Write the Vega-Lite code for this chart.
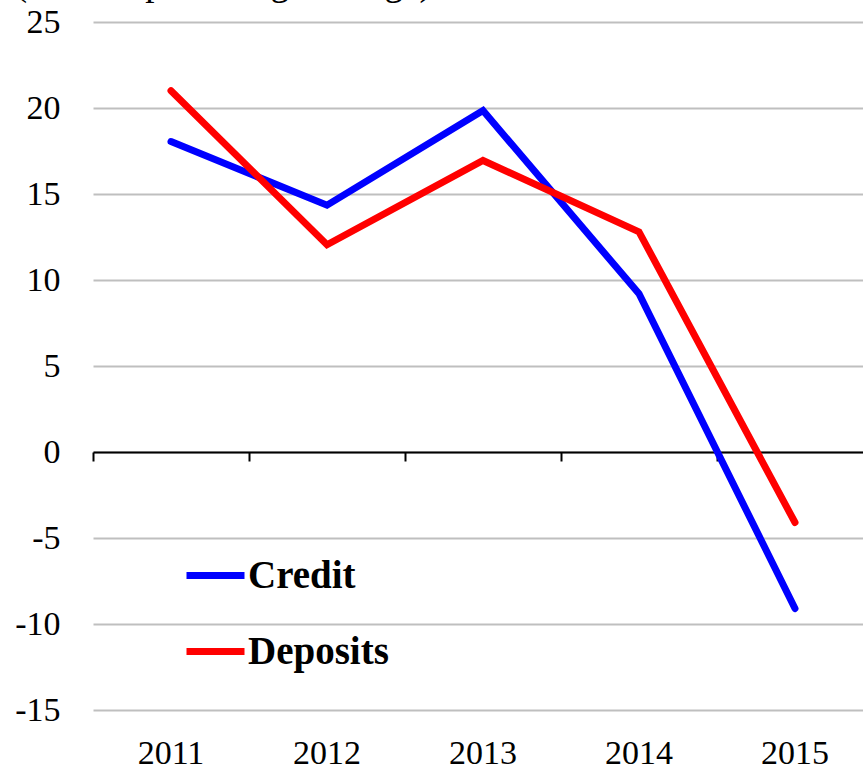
{
  "$schema": "https://vega.github.io/schema/vega-lite/v6.json",
  "autosize": {"type": "none"},
  "width": 770,
  "height": 688,
  "padding": {"left": 93, "top": 22, "right": 0, "bottom": 56},
  "background": "white",
  "title": {
    "text": "(Annual percentage change)",
    "anchor": "start",
    "frame": "bounds",
    "font": "Liberation Serif",
    "fontSize": 37,
    "fontWeight": "normal",
    "color": "black",
    "baseline": "alphabetic",
    "offset": -27
  },
  "config": {
    "view": {"stroke": null},
    "font": "Liberation Serif"
  },
  "data": {
    "values": [
      {"year": "2011", "series": "Credit", "value": 18.05},
      {"year": "2012", "series": "Credit", "value": 14.35},
      {"year": "2013", "series": "Credit", "value": 19.85},
      {"year": "2014", "series": "Credit", "value": 9.2},
      {"year": "2015", "series": "Credit", "value": -9.1},
      {"year": "2011", "series": "Deposits", "value": 21.0},
      {"year": "2012", "series": "Deposits", "value": 12.05},
      {"year": "2013", "series": "Deposits", "value": 16.95},
      {"year": "2014", "series": "Deposits", "value": 12.8},
      {"year": "2015", "series": "Deposits", "value": -4.1}
    ]
  },
  "mark": {"type": "line", "strokeWidth": 7, "strokeCap": "round"},
  "encoding": {
    "x": {
      "field": "year",
      "type": "ordinal",
      "scale": {"type": "band", "range": [0, 780], "paddingInner": 0, "paddingOuter": 0},
      "axis": {
        "title": null,
        "offset": -258,
        "domainColor": "black",
        "domainWidth": 2,
        "ticks": true,
        "tickColor": "black",
        "tickWidth": 2,
        "tickSize": 9,
        "bandPosition": 0,
        "labelPadding": 275,
        "labelFont": "Liberation Serif",
        "labelFontSize": 34,
        "labelColor": "black",
        "labelAngle": 0,
        "grid": false
      }
    },
    "y": {
      "field": "value",
      "type": "quantitative",
      "scale": {"domain": [-15, 25], "nice": false, "zero": false},
      "axis": {
        "title": null,
        "values": [-15, -10, -5, 0, 5, 10, 15, 20, 25],
        "labelExpr": "datum.value < 0 ? '-' + abs(datum.value) : '' + datum.value",
        "domain": false,
        "ticks": false,
        "grid": true,
        "gridColor": "#bfbfbf",
        "gridWidth": 2,
        "labelPadding": 33,
        "labelFont": "Liberation Serif",
        "labelFontSize": 34,
        "labelColor": "black"
      }
    },
    "color": {
      "field": "series",
      "type": "nominal",
      "scale": {"domain": ["Credit", "Deposits"], "range": ["#0000ff", "#ff0000"]},
      "legend": {
        "title": null,
        "orient": "none",
        "legendX": 90,
        "legendY": 521,
        "padding": 0,
        "symbolType": "stroke",
        "symbolSize": 3364,
        "symbolStrokeWidth": 7,
        "rowPadding": 23,
        "labelOffset": 0,
        "labelFont": "Liberation Serif",
        "labelFontSize": 39,
        "labelFontWeight": "bold",
        "labelColor": "black"
      }
    }
  }
}
